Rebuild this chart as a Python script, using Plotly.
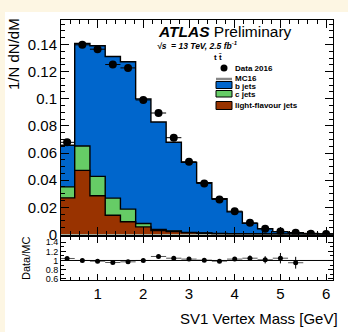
import plotly.graph_objects as go

# ---------------- data ----------------
bin_edges = [0.167, 0.5, 0.833, 1.167, 1.5, 1.833, 2.167, 2.5, 2.833, 3.167,
             3.5, 3.833, 4.167, 4.5, 4.833, 5.167, 5.5, 5.833, 6.167]
b_jets = [0.0306, 0.0755, 0.0962, 0.1043, 0.1085, 0.0918, 0.0791, 0.0652, 0.0515,
          0.0370, 0.0256, 0.0162, 0.0078, 0.0040, 0.0020, 0.0012, 0.0006, 0.0004]
c_jets = [0.0081, 0.0180, 0.0143, 0.0126, 0.0093, 0.0025, 0.0008, 0.0005, 0.0003,
          0.0002, 0.0001, 0.0001, 0.0001, 0.0000, 0.0001, 0.0000, 0.0000, 0.0000]
light_jets = [0.0270, 0.0472, 0.0285, 0.0142, 0.0094, 0.0056, 0.0030, 0.0022, 0.0013,
              0.0009, 0.0006, 0.0004, 0.0003, 0.0002, 0.0000, 0.0001, 0.0001, 0.0000]
data_2016 = [0.0679, 0.1397, 0.1365, 0.1252, 0.1227, 0.0991, 0.0895, 0.0713, 0.0536,
             0.0376, 0.0258, 0.0172, 0.0086, 0.0043, 0.0022, 0.0012, 0.0006, 0.0004]
ratio = [1.044, 1.0, 0.985, 0.956, 0.97, 1.0, 1.088, 1.05, 1.03, 1.007, 0.985,
         1.03, 1.05, 1.015, 1.05, 0.95]
ratio_err = [0.01, 0.01, 0.01, 0.01, 0.01, 0.01, 0.01, 0.01, 0.01, 0.015, 0.02,
             0.03, 0.06, 0.08, 0.115, 0.13]
y_ticks_main = [0, 0.02, 0.04, 0.06, 0.08, 0.1, 0.12, 0.14]
y_ticks_ratio = [0.6, 0.8, 1.0, 1.2, 1.4]
y_ticks_ratio_text = ["0.6", "0.8", "1", "1.2", "1.4"]
x_ticks = [1, 2, 3, 4, 5, 6]

# ---------------- derived ----------------
nb = len(b_jets)
centers = [(bin_edges[i] + bin_edges[i + 1]) / 2 for i in range(nb)]
half_w = [(bin_edges[i + 1] - bin_edges[i]) / 2 for i in range(nb)]
lf_top = list(light_jets)
c_top = [light_jets[i] + c_jets[i] for i in range(nb)]
tot_top = [c_top[i] + b_jets[i] for i in range(nb)]


def step(vals):
    xs, ys = [bin_edges[0]], [0]
    for i, v in enumerate(vals):
        xs += [bin_edges[i], bin_edges[i + 1]]
        ys += [v, v]
    xs.append(bin_edges[-1])
    ys.append(0)
    return xs, ys


FONT = "Liberation Sans, Arial, Helvetica, sans-serif"
BLUE = "#0066cc"
GREEN = "#66cc66"
BROWN = "#993300"
CREAM = "#fdf6e3"

fig = go.Figure()
for vals, col in [(tot_top, BLUE), (c_top, GREEN), (lf_top, BROWN)]:
    xs, ys = step(vals)
    fig.add_trace(go.Scatter(x=xs, y=ys, mode="lines", fill="tozeroy",
                             fillcolor=col, line=dict(color="black", width=1.4),
                             xaxis="x", yaxis="y", showlegend=False, hoverinfo="skip"))

fig.add_trace(go.Scatter(x=centers, y=data_2016, mode="markers",
                         marker=dict(color="black", size=8),
                         error_x=dict(type="data", array=half_w, color="black",
                                      thickness=1, width=0),
                         xaxis="x", yaxis="y", showlegend=False))

rx = centers[:len(ratio)]
fig.add_trace(go.Scatter(x=rx, y=ratio, mode="markers",
                         marker=dict(color="black", size=5),
                         error_x=dict(type="data", array=half_w[:len(ratio)],
                                      color="#555555", thickness=1, width=0),
                         error_y=dict(type="data", array=ratio_err, color="black",
                                      thickness=1, width=0),
                         xaxis="x2", yaxis="y2", showlegend=False))

# ---------------- layout ----------------
L, R, T, B = 61, 15, 20, 52
W, H = 348, 332
PW, PH = W - L - R, H - T - B


def px(x):
    return (x - L) / PW


def py(y):
    return (H - B - y) / PH


main_bottom = py(234.5)
ratio_top = py(237.3)

axis_common = dict(showline=True, linecolor="black", linewidth=1, mirror="allticks",
                   ticks="inside", tickcolor="black", showgrid=False, zeroline=False,
                   tickfont=dict(family=FONT, size=15, color="black"))

shapes = [
    dict(type="rect", xref="paper", yref="paper", x0=px(5), x1=px(360), y0=py(340),
         y1=py(12), fillcolor="white", line=dict(width=0), layer="below"),
    dict(type="line", xref="paper", yref="y2", x0=0, x1=1, y0=1, y1=1,
         line=dict(color="black", width=1)),
    # legend symbols
    dict(type="line", xref="paper", yref="paper", x0=px(216), x1=px(232),
         y0=py(79), y1=py(79), line=dict(color="#888888", width=2.5)),
    dict(type="rect", xref="paper", yref="paper", x0=px(216), x1=px(232),
         y0=py(88.5), y1=py(81.5), fillcolor=BLUE, line=dict(color="black", width=1)),
    dict(type="rect", xref="paper", yref="paper", x0=px(216), x1=px(232),
         y0=py(97), y1=py(90.5), fillcolor=GREEN, line=dict(color="black", width=1)),
    dict(type="rect", xref="paper", yref="paper", x0=px(216), x1=px(232),
         y0=py(109.5), y1=py(101.5), fillcolor=BROWN, line=dict(color="black", width=1)),
    dict(type="circle", xref="paper", yref="paper", x0=px(220.5), x1=px(227.5),
         y0=py(71.5), y1=py(64.5), fillcolor="black", line=dict(color="black", width=0)),
]


def ann(text, x, y, size, xanchor="left", yanchor="middle", angle=0):
    return dict(text=text, xref="paper", yref="paper", x=px(x), y=py(y),
                xanchor=xanchor, yanchor=yanchor, showarrow=False, textangle=angle,
                font=dict(family=FONT, size=size, color="black"))


annotations = [
    ann("<b><i>ATLAS</i></b> Preliminary", 155.5, 32, 15.5),
    ann("<b><i>√s  = 13 TeV, 2.5 fb<sup>-1</sup></i></b>", 155, 45, 8.5),
    ann("<b>t t\u0304</b>", 212, 57, 8),
    ann("<b>Data 2016</b>", 233, 68, 8),
    ann("<b>MC16</b>", 233, 78, 8),
    ann("<b>b jets</b>", 233, 86, 8),
    ann("<b>c jets</b>", 233, 94, 8),
    ann("<b>light-flavour jets</b>", 233, 105.5, 8),
    ann("SV1 Vertex Mass [GeV]", 340, 318, 15, xanchor="right"),
    ann("1/N dN/dM", 14, 54, 15, xanchor="center", angle=-90),
    ann("Data/MC", 26, 259, 11, xanchor="center", angle=-90),
]

fig.update_layout(
    width=W, height=H,
    margin=dict(l=L, r=R, t=T, b=B, pad=0),
    paper_bgcolor=CREAM, plot_bgcolor="white",
    showlegend=False,
    xaxis=dict(axis_common, domain=[0, 1], range=[0.2, 6.15], anchor="y",
               tickvals=x_ticks, showticklabels=False, ticklen=8,
               minor=dict(dtick=0.2, ticklen=4, ticks="inside", tickcolor="black")),
    xaxis2=dict(axis_common, domain=[0, 1], range=[0.2, 6.15], anchor="y2",
                matches="x", tickvals=x_ticks, ticklen=6,
                minor=dict(dtick=0.2, ticklen=3, ticks="inside", tickcolor="black")),
    yaxis=dict(axis_common, domain=[main_bottom, 1], range=[0, 0.158], anchor="x",
               tickvals=y_ticks_main, ticklen=8,
               minor=dict(dtick=0.005, ticklen=4, ticks="inside", tickcolor="black")),
    yaxis2=dict(axis_common, domain=[0, ratio_top], range=[0.57, 1.51], anchor="x2",
                tickvals=y_ticks_ratio, ticktext=y_ticks_ratio_text, ticklen=5,
                tickfont=dict(family=FONT, size=9, color="black"),
                minor=dict(dtick=0.1, ticklen=3, ticks="inside", tickcolor="black")),
    shapes=shapes,
    annotations=annotations,
)

fig.write_html("out.html")
